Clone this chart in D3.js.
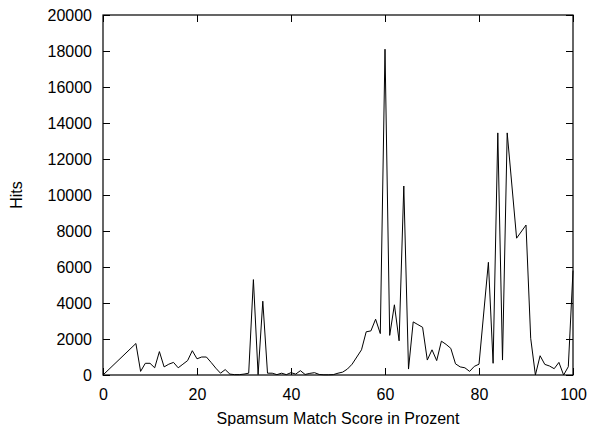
<!DOCTYPE html>
<html>
<head>
<meta charset="utf-8">
<script src="https://cdn.jsdelivr.net/npm/d3@7"></script>
<style>
  body { margin: 0; background: #fff; }
  svg text { font-family: "Liberation Sans", Arial, sans-serif; font-size: 16px; fill: #000; }
</style>
</head>
<body>
<div id="chart"></div>
<script>
// match score (percent) and number of hits
const scores = [0, 7, 8, 9, 10, 11, 12, 13, 14, 15, 16, 17, 18, 19, 20,
  21, 22, 23, 24, 25, 26, 27, 28, 29, 30, 31, 32, 33, 34, 35, 36, 37, 38, 39, 40,
  41, 42, 43, 44, 45, 46, 47, 48, 49, 50, 51, 52, 53, 54, 55, 56, 57, 58, 59, 60,
  61, 62, 63, 64, 65, 66, 67, 68, 69, 70, 71, 72, 73, 74, 75, 76, 77, 78, 79, 80,
  82, 83, 84, 85, 86, 88, 90, 91, 92, 93, 94, 95, 96, 97, 98, 99, 100];
const hits = [0, 1750, 200, 650, 650, 400, 1300, 450, 600, 700, 400, 600, 800, 1350, 900,
  1000, 1000, 700, 380, 100, 300, 50, 20, 20, 50, 100, 5300, 20, 4100, 100, 100, 20, 100, 20, 130,
  50, 240, 30, 90, 130, 30, 10, 10, 20, 100, 160, 330, 600, 1000, 1400, 2400, 2450, 3100, 2300, 18100,
  2200, 3900, 1900, 10500, 330, 2950, 2800, 2650, 830, 1400, 800, 1880, 1700, 1480, 620, 450, 400, 200, 480, 600,
  6260, 650, 13450, 830, 13450, 7600, 8330, 2040, 0, 1070, 590, 500, 350, 700, 0, 460, 5800];

const xTicks = [0, 20, 40, 60, 80, 100];
const yTicks = [0, 2000, 4000, 6000, 8000, 10000, 12000, 14000, 16000, 18000, 20000];

const W = 591, H = 426;
const margin = { top: 15, right: 18, bottom: 51, left: 103 };
const width = W - margin.left - margin.right;
const height = H - margin.top - margin.bottom;

const svg = d3.select("#chart").append("svg")
    .attr("width", W)
    .attr("height", H);

svg.append("rect")
    .attr("width", W)
    .attr("height", H)
    .attr("fill", "#fff");

const g = svg.append("g")
    .attr("transform", `translate(${margin.left},${margin.top})`);

const x = d3.scaleLinear().domain([0, 100]).range([0, width]);
const y = d3.scaleLinear().domain([0, 20000]).range([height, 0]);

const tick = 7;
const plain = d3.format("d");

// bottom axis with labels, ticks pointing inward
g.append("g")
    .attr("class", "axis")
    .attr("transform", `translate(0,${height})`)
    .call(d3.axisBottom(x).tickValues(xTicks).tickFormat(plain).tickSizeInner(-tick).tickSizeOuter(0).tickPadding(14));

// top mirror ticks
g.append("g")
    .attr("class", "axis")
    .call(d3.axisTop(x).tickValues(xTicks).tickSizeInner(-tick).tickSizeOuter(0).tickFormat(""));

// left axis with labels
g.append("g")
    .attr("class", "axis")
    .call(d3.axisLeft(y).tickValues(yTicks).tickFormat(plain).tickSizeInner(-tick).tickSizeOuter(0).tickPadding(11));

// right mirror ticks
g.append("g")
    .attr("class", "axis")
    .attr("transform", `translate(${width},0)`)
    .call(d3.axisRight(y).tickValues(yTicks).tickSizeInner(-tick).tickSizeOuter(0).tickFormat(""));

g.selectAll(".axis path").remove();
g.selectAll(".axis line").attr("stroke", "#000");
g.selectAll(".axis text")
    .attr("font-family", null)
    .attr("font-size", null);

// the data line
const line = d3.line()
    .x((d, i) => x(scores[i]))
    .y(d => y(d));

g.append("path")
    .datum(hits)
    .attr("fill", "none")
    .attr("stroke", "#000")
    .attr("stroke-width", 1)
    .attr("d", line);

// frame
g.append("rect")
    .attr("width", width)
    .attr("height", height)
    .attr("fill", "none")
    .attr("stroke", "#000")
    .attr("stroke-width", 1.2);

// axis titles
svg.append("text")
    .attr("x", margin.left + width / 2)
    .attr("y", 424)
    .attr("text-anchor", "middle")
    .text("Spamsum Match Score in Prozent");

svg.append("text")
    .attr("transform", `translate(22,${margin.top + height / 2}) rotate(-90)`)
    .attr("text-anchor", "middle")
    .text("Hits");
</script>
</body>
</html>
